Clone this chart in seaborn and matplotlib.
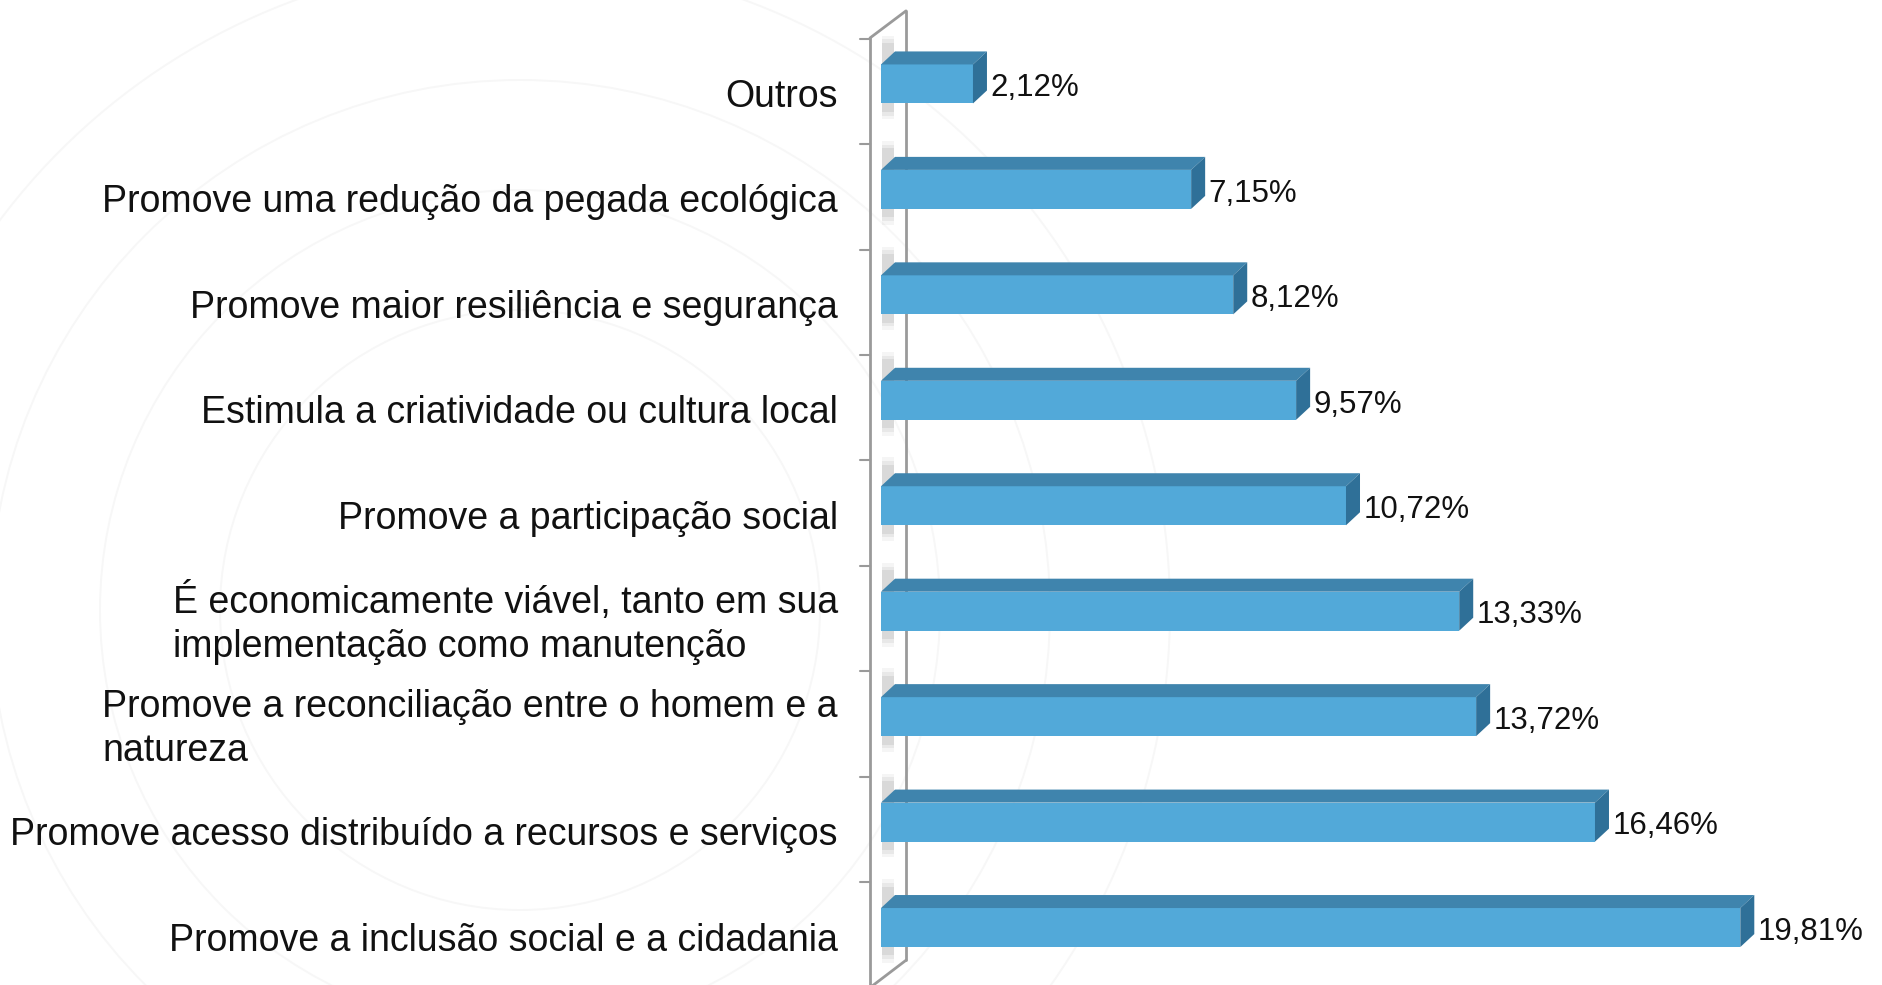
import pandas as pd
import seaborn as sns
import matplotlib.pyplot as plt
from matplotlib.patches import Polygon, Circle, Rectangle
from matplotlib.transforms import ScaledTranslation


categories = [
    'Outros',
    'Promove uma redução da pegada ecológica',
    'Promove maior resiliência e segurança',
    'Estimula a criatividade ou cultura local',
    'Promove a participação social',
    'É economicamente viável, tanto em sua\nimplementação como manutenção',
    'Promove a reconciliação entre o homem e a\nnatureza',
    'Promove acesso distribuído a recursos e serviços',
    'Promove a inclusão social e a cidadania',
]
values = [2.12, 7.15, 8.12, 9.57, 10.72, 13.33, 13.72, 16.46, 19.81]
value_labels = ['2,12%', '7,15%', '8,12%', '9,57%', '10,72%',
                '13,33%', '13,72%', '16,46%', '19,81%']

front = '#52a9d9'
top_c = '#3f84ad'
side_c = '#2f7098'
wall_c = '#9a9a9a'

df = pd.DataFrame({'categoria': categories, 'valor': values})

sns.set_theme(style='white')
plt.rcParams['font.family'] = ['Liberation Sans', 'DejaVu Sans']

fig = plt.figure(figsize=(18.83, 9.85), dpi=100)

# faint watermark circles in the background
bg = fig.add_axes([0, 0, 1, 1], zorder=-5)
bg.set_xlim(0, 1883)
bg.set_ylim(985, 0)
bg.axis('off')
for r in [300, 420, 530, 650]:
    bg.add_patch(Circle((520, 610), r, fill=False, ec='#f7f7f7', lw=1.4))

ax = fig.add_axes([881 / 1883, 0.0048, 1 - 881 / 1883, 0.9635])
ax.patch.set_alpha(0)

sns.barplot(data=df, x='valor', y='categoria', orient='h', color=front,
            saturation=1, width=0.37, ax=ax, zorder=4, edgecolor='none')

ax.set_xlim(0, 23.1)
ax.set_ylim(8.5, -0.5)

# depth of the 3D effect in data units
dx = 14 / 43.36
dy = 13 / 105.4

for i, p in enumerate(ax.patches):
    x0 = p.get_x()
    x1 = x0 + p.get_width()
    y0 = p.get_y()
    y1 = y0 + p.get_height()
    # soft shadow on the wall
    for k, a in enumerate([0.06, 0.08, 0.10]):
        s = 0.1 - k * 0.035
        ax.add_patch(Rectangle((0.03, y0 - dy - s - 0.05), dx - 0.05,
                               (y1 - y0) + dy + 2 * s + 0.1,
                               color='#555555', alpha=a, lw=0, zorder=2,
                               clip_on=False))
    ax.add_patch(Polygon([(x0, y0), (x1, y0), (x1 + dx, y0 - dy), (x0 + dx, y0 - dy)],
                         closed=True, fc=top_c, ec='none', zorder=5))
    ax.add_patch(Polygon([(x1, y0), (x1 + dx, y0 - dy), (x1 + dx, y1 - dy), (x1, y1)],
                         closed=True, fc=side_c, ec='none', zorder=5))
    ax.text(values[i] + dx + 0.08, i + 0.04, value_labels[i], ha='left',
            va='center', fontsize=22.5, color='#111111', zorder=6)

# the wall
wl = -11 / 43.36
wr = 25 / 43.36
ax.plot([wr, wr], [-0.693, 8.31], color=wall_c, lw=2, zorder=3, clip_on=False)
ax.plot([wl, wl], [-0.436, 8.7], color=wall_c, lw=2, zorder=3, clip_on=False)
ax.plot([wl, wr], [-0.436, -0.693], color=wall_c, lw=2, zorder=3, clip_on=False)
ax.plot([wl, wr], [8.57, 8.31], color=wall_c, lw=2, zorder=3, clip_on=False)
for k in range(10):
    ax.plot([-21 / 43.36, wl], [k - 0.43, k - 0.43], color=wall_c, lw=1.5,
            zorder=3, clip_on=False)

ax.set_xlabel('')
ax.set_ylabel('')
ax.set_xticks([])
ax.set_yticks(range(len(categories)))
ax.set_yticklabels(categories, fontsize=27, color='#111111')
ax.tick_params(axis='y', length=0, pad=31)
for lab in ax.get_yticklabels():
    two = '\n' in lab.get_text()
    lab.set_multialignment('left')
    lab.set_linespacing(1.3 if two else 1.2)
    off = ScaledTranslation(0, -0.04 if two else -0.09, fig.dpi_scale_trans)
    lab.set_transform(lab.get_transform() + off)
sns.despine(ax=ax, left=True, bottom=True)

fig.savefig('out.png', dpi=100)
